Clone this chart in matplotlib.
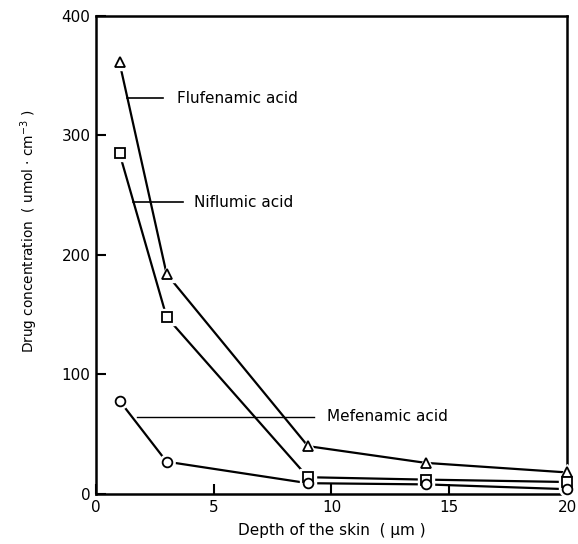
import matplotlib.pyplot as plt

depth = [1, 3, 9, 14, 20]
flufenamic = [361, 184, 40, 26, 18]
niflumic = [285, 148, 14, 12, 10]
mefenamic = [78, 27, 9, 8, 4]

plt.rcParams['font.family'] = ['DejaVu Sans']

fig = plt.figure(figsize=(5.78, 5.44), dpi=100)
ax = fig.add_axes([0.166, 0.092, 0.815, 0.879])

series = [(flufenamic, '^'), (niflumic, 's'), (mefenamic, 'o')]
for values, mk in series:
    ax.plot(depth, values, color='black', lw=1.6, zorder=2, clip_on=False)
    # white halo so the line stops short of the marker
    ax.plot(depth, values, ls='none', marker=mk, ms=11, mfc='white', mec='white',
            zorder=3, clip_on=False)
    ax.plot(depth, values, ls='none', marker=mk, ms=7, mfc='white', mec='black',
            mew=1.3, zorder=4, clip_on=False)

# leader lines and labels
ax.plot([1.32, 2.86], [331, 331], color='black', lw=1.2)
ax.text(3.42, 331, 'Flufenamic acid', fontsize=11, va='center')
ax.plot([1.58, 3.7], [244, 244], color='black', lw=1.2)
ax.text(4.15, 244, 'Niflumic acid', fontsize=11, va='center')
ax.plot([1.75, 9.27], [64, 64], color='black', lw=1.0)
ax.text(9.79, 65, 'Mefenamic acid', fontsize=11, va='center')

ax.set_xlim(0, 20)
ax.set_ylim(0, 400)
ax.set_xticks([0, 5, 10, 15, 20])
ax.set_yticks([0, 100, 200, 300, 400])
ax.tick_params(direction='in', length=7, width=1.5, labelsize=11, pad=4)
for s in ax.spines.values():
    s.set_linewidth(1.8)

ax.set_xlabel('Depth of the skin  ( µm )', fontsize=11, labelpad=6)
ax.set_ylabel(r'Drug concentration  ( umol $\cdot$ cm$^{-3}$ )', fontsize=9.8)
ax.yaxis.set_label_coords(-0.118, 0.55)

fig.savefig('out.png', dpi=100)
